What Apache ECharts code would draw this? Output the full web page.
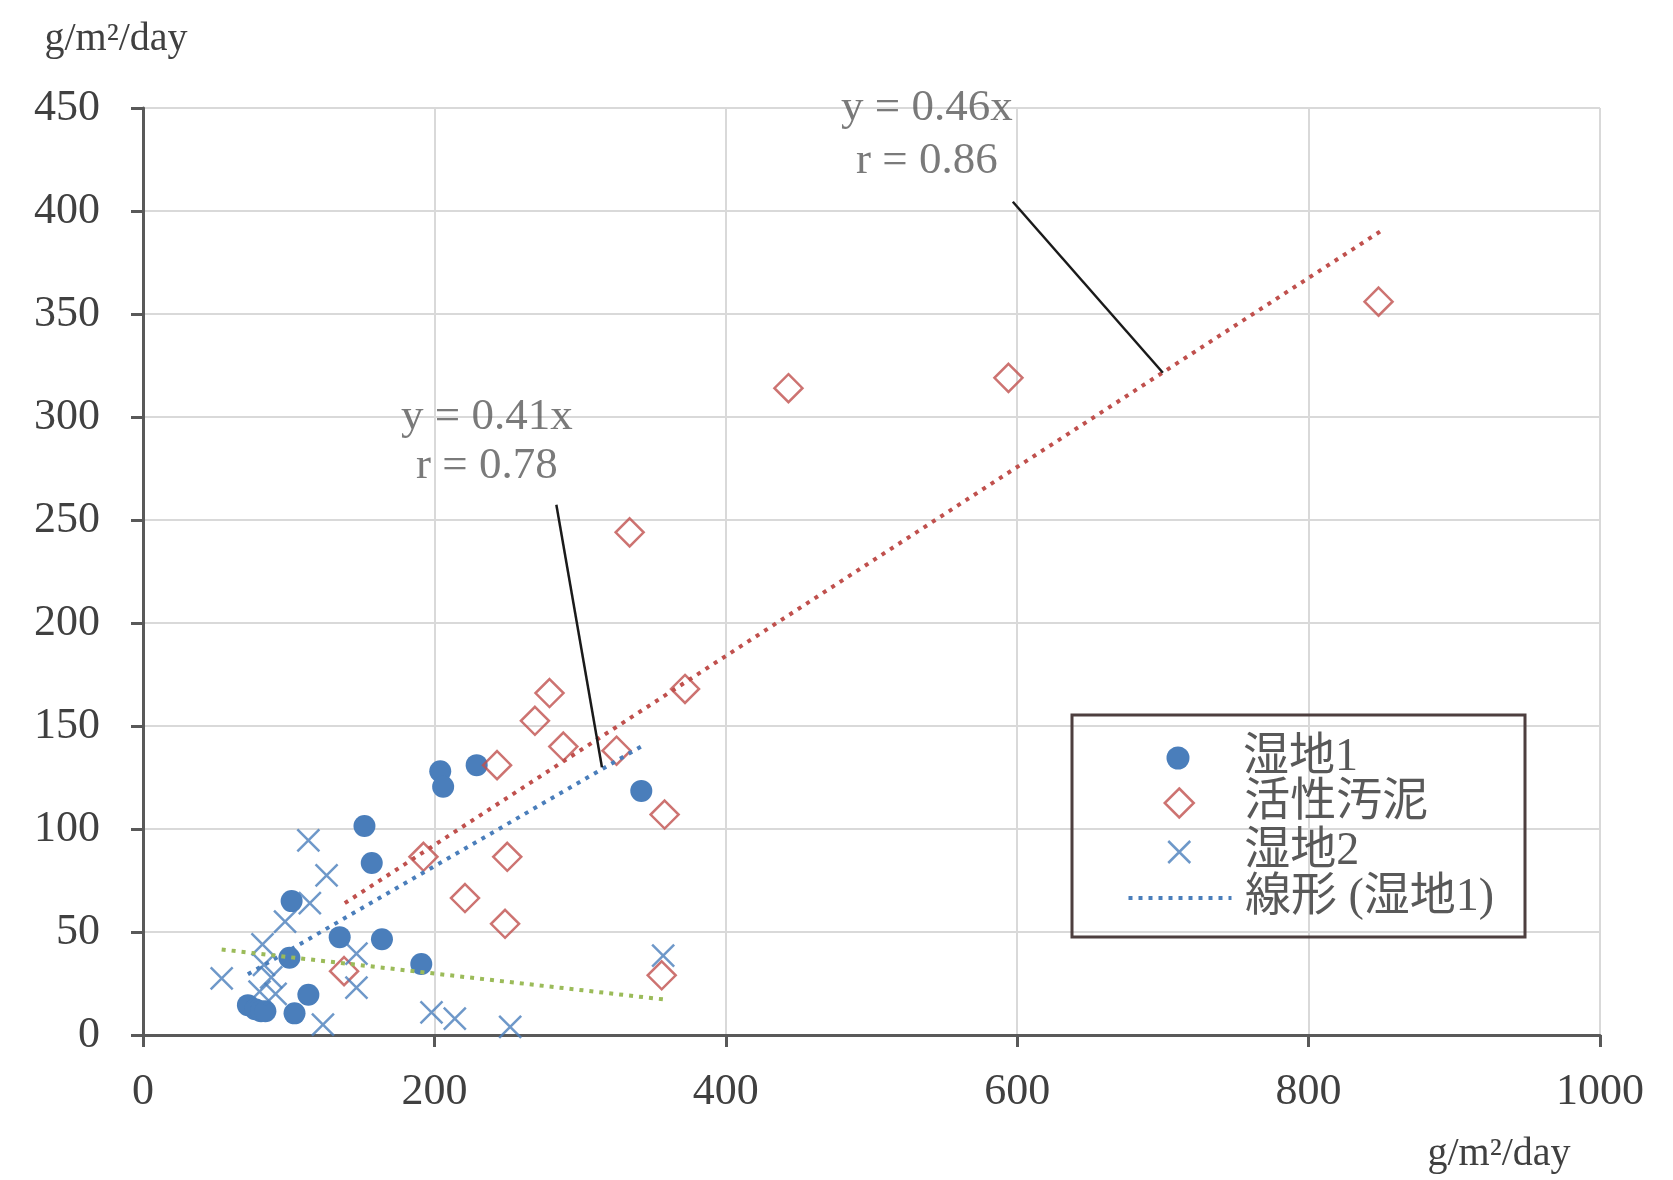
<!DOCTYPE html>
<html><head><meta charset="utf-8">
<script src="https://cdn.jsdelivr.net/npm/echarts@6/dist/echarts.min.js"></script>
<style>html,body{margin:0;padding:0;background:#fff}#c{width:1673px;height:1180px}</style>
</head><body><div id="c"></div>
<script>
// ---- data ----
const xTicks = [0, 200, 400, 600, 800, 1000];
const yTicks = [0, 50, 100, 150, 200, 250, 300, 350, 400, 450];
const unitLabel = 'g/m²/day';
const seriesNames = ['湿地1', '活性汚泥', '湿地2', '線形 (湿地1)'];

const wetland1 = [[72,14.5],[77,12.5],[81,11.5],[84,11.5],[104,10.5],[113.5,19.5],[100.5,37.5],[102,65],
  [135,47.5],[152,101.5],[157,83.5],[164,46.5],[191,34.5],[204,128],[206,120.5],[229,131],[342,118.5]];
const sludge = [[848,356],[594,319],[443,314],[334,244],[372,168],[279,166],[269,152.5],[288.5,140],
  [325,138],[243,131],[358,107],[192.5,86.5],[250,86.5],[221,66.5],[248.5,54],[138,31],[356,29]];
const wetland2 = [[54,27.5],[82,44],[83,34],[88,28],[80,21],[91,20],[97.5,55],[113.5,94.5],[114.5,64],
  [126,77.5],[146.5,39.5],[146.5,23],[123.5,5],[198,11],[214,8],[252,4],[357,38.5]];

const trendWetland1 = [[72,29.5],[343,140.5]];
const trendSludge = [[138.5,64],[849,390]];
const trendWetland2 = [[54,41.5],[357,17.3]];

const leaderSludge = [[597,404.5],[700,321.5]];
const leaderWetland1 = [[283.7,257.4],[315,130]];
const noteSludgePos = [538,437];
const noteSludgeText = ['y = 0.46x', 'r = 0.86'];
const noteWetland1Pos = [236,288];
const noteWetland1Text = ['y = 0.41x', 'r = 0.78'];

// ---- styling ----
const FONT = "'Liberation Serif', 'Noto Sans CJK JP', serif";
const BLUE = '#4a7ebb', RED = '#c0504d', GREEN = '#9bbb59';
const AXIS = '#595959', LABEL = '#404040', GRID = '#d9d9d9';
const CROSS = 'path://M0,0L20,20M20,0L0,20';

const chart = echarts.init(document.getElementById('c'), null, {renderer: 'canvas'});

function axisBase(ticks) {
  return {
    type: 'value', min: ticks[0], max: ticks[ticks.length - 1], interval: ticks[1] - ticks[0],
    axisLine: {show: true, onZero: false, lineStyle: {color: AXIS, width: 3}},
    axisTick: {show: true, length: 12, lineStyle: {color: AXIS, width: 3}},
    splitLine: {show: true, lineStyle: {color: GRID, width: 2}},
  };
}

// legend rows: icon centre x 1178, text starting at x 1243
const ICON_CX = 1178, TEXT_X = 1243, LFS = 46;
function legendRow(name, centerY, w, h, extra) {
  const left = ICON_CX - w / 2;
  return Object.assign({
    data: [name], left: left, top: centerY - LFS / 2, orient: 'vertical', padding: 0, itemGap: 0,
    itemWidth: w, itemHeight: h, selectedMode: false,
    textStyle: {fontSize: LFS, fontFamily: FONT, color: '#595959',
                padding: [0, 0, 0, TEXT_X - (left + w + 5)]}
  }, extra || {});
}

const option = {
  animation: false,
  backgroundColor: '#ffffff',
  grid: {left: 143, right: 73, top: 108, bottom: 145, containLabel: false},
  xAxis: Object.assign(axisBase(xTicks), {
    axisLabel: {margin: 35, fontSize: 44, fontFamily: FONT, color: LABEL, formatter: v => String(v)},
    name: unitLabel, nameLocation: 'middle', nameGap: 99,
    nameTextStyle: {fontSize: 40, fontFamily: FONT, color: LABEL, padding: [0, 0, 0, 1255]}
  }),
  yAxis: Object.assign(axisBase(yTicks), {
    axisLabel: {margin: 43, fontSize: 44, fontFamily: FONT, color: LABEL, formatter: v => String(v)},
    name: unitLabel, nameLocation: 'end', nameGap: 49,
    nameTextStyle: {fontSize: 40, fontFamily: FONT, color: LABEL, padding: [0, 54, 0, 0]}
  }),
  legend: [
    legendRow(seriesNames[0], 758, 23, 23),
    legendRow(seriesNames[1], 803, 29, 29, {itemStyle: {borderWidth: 2.5}}),
    legendRow(seriesNames[2], 852, 22, 22, {itemStyle: {borderWidth: 2.5}}),
    legendRow(seriesNames[3], 898, 103, 14, {
      data: [{name: seriesNames[3], itemStyle: {opacity: 0},
              lineStyle: {width: 4, type: [4, 6], color: BLUE}}]
    })
  ],
  graphic: [{
    type: 'rect', silent: true, z: 10,
    shape: {x: 1072, y: 715, width: 453, height: 222},
    style: {fill: 'none', stroke: '#4d3f3f', lineWidth: 3}
  }],
  series: [
    {name: seriesNames[0], type: 'scatter', data: wetland1, symbol: 'circle', symbolSize: 22, z: 2,
     itemStyle: {color: BLUE, opacity: 1}},
    {name: seriesNames[1], type: 'scatter', data: sludge, symbol: 'diamond', symbolSize: 28, z: 2,
     itemStyle: {color: 'rgba(255,255,255,0)', borderColor: RED, borderWidth: 2.5}},
    {name: seriesNames[2], type: 'scatter', data: wetland2, symbol: CROSS, symbolSize: 22, z: 2,
     itemStyle: {color: 'rgba(255,255,255,0)', borderColor: BLUE, borderWidth: 2.5}},
    {name: seriesNames[3], type: 'line', data: trendWetland1, symbol: 'none', z: 3,
     lineStyle: {color: BLUE, width: 4, type: [4, 6]}},
    {name: '線形 (活性汚泥)', type: 'line', data: trendSludge, symbol: 'none', z: 3,
     lineStyle: {color: RED, width: 4, type: [4, 6]}},
    {name: '線形 (湿地2)', type: 'line', data: trendWetland2, symbol: 'none', z: 3,
     lineStyle: {color: GREEN, width: 4, type: [4, 6]}},
    {name: 'leader1', type: 'line', data: leaderSludge, symbol: 'none', z: 4,
     lineStyle: {color: '#1a1a1a', width: 2.5}},
    {name: 'leader2', type: 'line', data: leaderWetland1, symbol: 'none', z: 4,
     lineStyle: {color: '#1a1a1a', width: 2.5}},
    {name: 'note1', type: 'scatter', data: [noteSludgePos], symbolSize: 1, z: 5, silent: true,
     itemStyle: {color: 'rgba(255,255,255,0)'},
     label: {show: true, position: 'inside', formatter: noteSludgeText.join('\n'), align: 'center',
             verticalAlign: 'middle', fontSize: 45, lineHeight: 53, fontFamily: FONT, color: '#595959'}},
    {name: 'note2', type: 'scatter', data: [noteWetland1Pos], symbolSize: 1, z: 5, silent: true,
     itemStyle: {color: 'rgba(255,255,255,0)'},
     label: {show: true, position: 'inside', formatter: noteWetland1Text.join('\n'), align: 'center',
             verticalAlign: 'middle', fontSize: 45, lineHeight: 49, fontFamily: FONT, color: '#595959'}}
  ]
};
chart.setOption(option);
</script></body></html>
